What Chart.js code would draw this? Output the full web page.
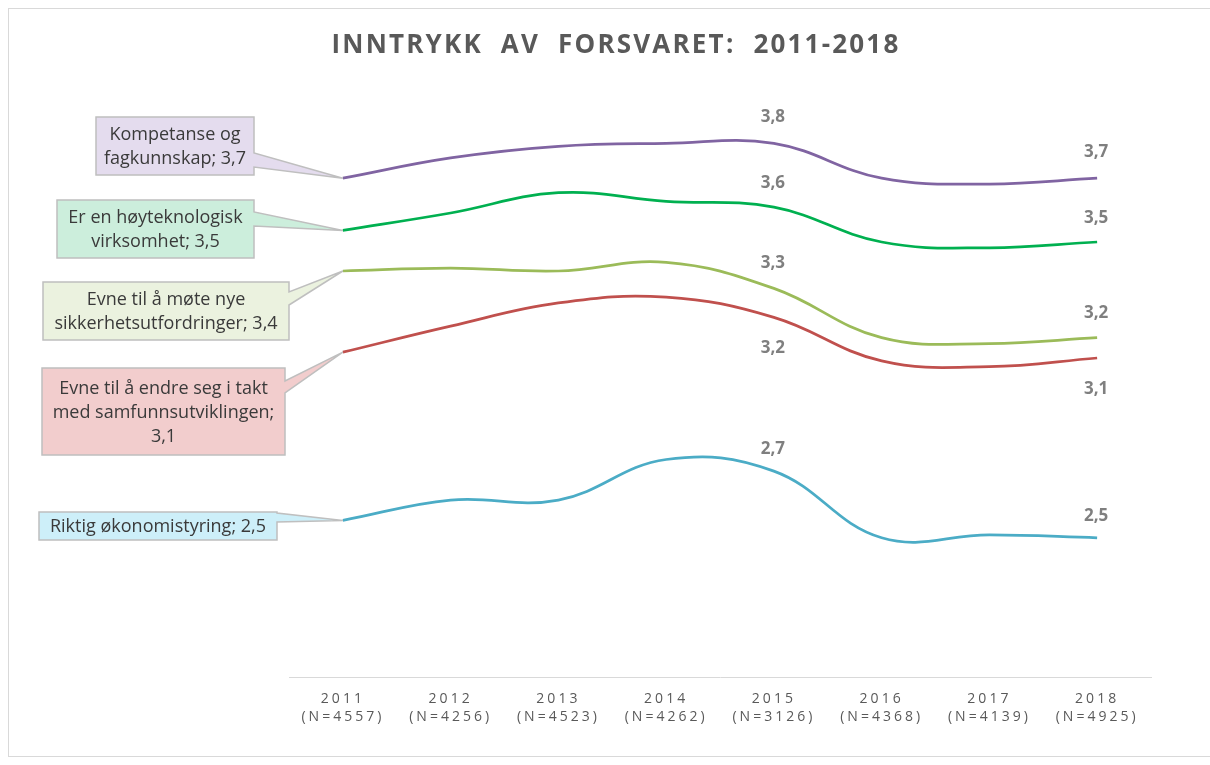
<!DOCTYPE html>
<html>
<head>
<meta charset="utf-8">
<script src="https://cdn.jsdelivr.net/npm/chart.js@4.4.1/dist/chart.umd.min.js"></script>
<style>
  body { margin: 0; background: #fff; }
</style>
</head>
<body>
<canvas id="myChart" width="1210" height="765"></canvas>
<script>
var years = ['2011', '2012', '2013', '2014', '2015', '2016', '2017', '2018'];
var nValues = ['4557', '4256', '4523', '4262', '3126', '4368', '4139', '4925'];

var seriesNames = [
  'Kompetanse og fagkunnskap',
  'Er en høyteknologisk virksomhet',
  'Evne til å møte nye sikkerhetsutfordringer',
  'Evne til å endre seg i takt med samfunnsutviklingen',
  'Riktig økonomistyring'
];
var kompetanse = [3.72, 3.79, 3.83, 3.84, 3.84, 3.72, 3.70, 3.72];
var hoyteknologisk = [3.54, 3.60, 3.67, 3.64, 3.62, 3.50, 3.48, 3.50];
var sikkerhet = [3.40, 3.41, 3.40, 3.43, 3.34, 3.17, 3.15, 3.17];
var endring = [3.12, 3.21, 3.29, 3.31, 3.24, 3.09, 3.07, 3.10];
var okonomi = [2.54, 2.61, 2.61, 2.75, 2.71, 2.48, 2.49, 2.48];

var allSeries = [kompetanse, hoyteknologisk, sikkerhet, endring, okonomi];
var lineColors = ['#8064A2', '#00B050', '#9BBB59', '#C0504D', '#4BACC6'];

// callout boxes on the left (x, y, w, h), wedge base on right edge
var callouts = [
  { box: [96, 117, 158, 58], base: [153, 167], fill: '#E4DCEE', lines: ['Kompetanse og', 'fagkunnskap; {v}'] },
  { box: [57, 200, 197, 58], base: [212, 226], fill: '#CCEEDC', lines: ['Er en høyteknologisk', 'virksomhet; {v}'] },
  { box: [43, 282, 246, 58], base: [292, 305], fill: '#EBF2DF', lines: ['Evne til å møte nye', 'sikkerhetsutfordringer; {v}'] },
  { box: [42, 368, 243, 87], base: [381, 393], fill: '#F2CDCD', lines: ['Evne til å endre seg i takt', 'med samfunnsutviklingen;', '{v}'] },
  { box: [39, 512, 238, 28], base: [513, 522], fill: '#CDEFF9', lines: ['Riktig økonomistyring; {v}'] }
];
var labelOffsets = [-26, -24, -25, 31, -22];
var labelIndexes = [4, 7];

function fmt(v) {
  return v.toFixed(1).replace('.', ',');
}

const ctx = document.getElementById('myChart');

Chart.defaults.font.family = '"Open Sans", sans-serif';

var annotate = {
  id: 'annotate',
  beforeDraw: function(chart) {
    var c = chart.ctx;
    c.save();
    c.strokeStyle = '#D9D9D9';
    c.lineWidth = 1;
    c.strokeRect(8.5, 8.5, 1300, 748);
    c.restore();
    c.letterSpacing = '3px';   // for the x tick labels
  },
  beforeDatasetsDraw: function(chart) {
    chart.ctx.letterSpacing = '0px';
  },
  afterDatasetsDraw: function(chart) {
    var c = chart.ctx;
    c.save();

    // title
    c.letterSpacing = '2.2px';
    c.font = 'bold 26px "Open Sans"';
    c.fillStyle = '#595959';
    c.textAlign = 'center';
    c.textBaseline = 'middle';
    c.fillText('INNTRYKK  AV  FORSVARET:  2011-2018', 616, 46);
    c.letterSpacing = '0px';

    // callouts
    callouts.forEach(function(co, i) {
      var pt = chart.getDatasetMeta(i).data[0];
      var x = co.box[0], y = co.box[1], w = co.box[2], h = co.box[3];
      c.beginPath();
      c.moveTo(x, y);
      c.lineTo(x + w, y);
      c.lineTo(x + w, co.base[0]);
      c.lineTo(pt.x, pt.y);
      c.lineTo(x + w, co.base[1]);
      c.lineTo(x + w, y + h);
      c.lineTo(x, y + h);
      c.closePath();
      c.fillStyle = co.fill;
      c.fill();
      c.strokeStyle = '#BFBFBF';
      c.lineWidth = 1.5;
      c.stroke();

      c.font = '18px "Open Sans"';
      c.fillStyle = '#3A3A3A';
      var n = co.lines.length;
      co.lines.forEach(function(line, j) {
        var txt = line.replace('{v}', fmt(allSeries[i][0]));
        c.fillText(txt, x + w / 2, y + h / 2 + (j - (n - 1) / 2) * 24 + 1);
      });
    });

    // value labels
    c.font = 'bold 17px "Open Sans"';
    c.fillStyle = '#7F7F7F';
    allSeries.forEach(function(vals, i) {
      var meta = chart.getDatasetMeta(i);
      labelIndexes.forEach(function(k) {
        var p = meta.data[k];
        c.fillText(fmt(vals[k]), p.x - 1, p.y + labelOffsets[i]);
      });
    });
    c.restore();
  }
};

const chart = new Chart(ctx, {
  type: 'line',
  data: {
    labels: years.map(function(y, i) { return [y, '(N=' + nValues[i] + ')']; }),
    datasets: allSeries.map(function(vals, i) {
      return {
        label: seriesNames[i],
        data: vals,
        borderColor: lineColors[i],
        backgroundColor: lineColors[i],
        borderWidth: 2.75,
        tension: 0.4,
        pointRadius: 0,
        fill: false
      };
    })
  },
  options: {
    responsive: false,
    animation: false,
    layout: { padding: { left: 289, right: 59, top: 97, bottom: 0 } },
    plugins: {
      legend: { display: false },
      tooltip: { enabled: false }
    },
    scales: {
      x: {
        offset: true,
        grid: { display: false, drawTicks: false },
        border: { display: true, color: '#D9D9D9', width: 1 },
        ticks: {
          color: '#595959',
          font: { size: 14, lineHeight: 1.3 },
          padding: 13,
          maxRotation: 0,
          autoSkip: false
        },
        afterFit: function(s) { s.height = 88; }
      },
      y: { display: false, min: 2, max: 4 }
    }
  },
  plugins: [annotate]
});
</script>
</body>
</html>
